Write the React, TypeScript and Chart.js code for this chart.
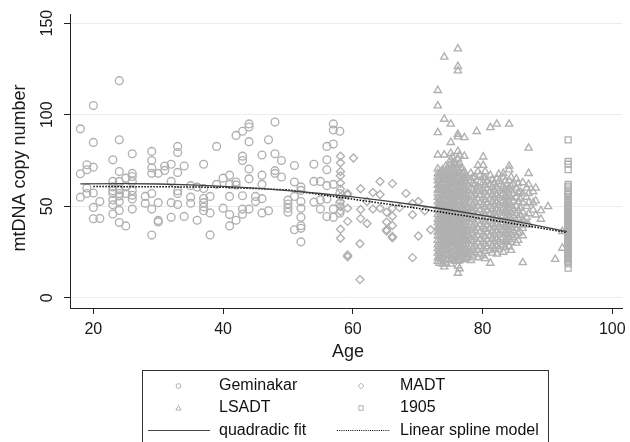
import React, { useEffect, useRef } from "react";
import { Chart, registerables } from "chart.js";

Chart.register(...registerables);

const xTicks = [20, 40, 60, 80, 100];
const yTicks = [0, 50, 100, 150];
const xTitle = "Age";
const yTitle = "mtDNA copy number";
const legendLabels = ["Geminakar", "MADT", "LSADT", "1905", "quadradic fit", "Linear spline model"];

const geminakar: [number, number][] = [
  [18, 92.3], [18, 67.8], [18, 55], [19, 72.7], [19, 70], [19, 57], [19, 60], [20, 105], [20, 84.9], [20, 71.4],
  [20, 57.3], [20, 49.4], [20, 43.2], [21, 43.4], [21, 52.6], [23, 75.4], [23, 63.6], [23, 57], [23, 53.4], [23, 45.8],
  [23, 60.6], [23, 58.5], [23, 50.8], [24, 118.6], [24, 86.3], [24, 69], [24, 63.6], [24, 57], [24, 52.6], [24, 47.7],
  [24, 41.2], [24, 59], [24, 55.7], [25, 39.3], [25, 57], [25, 60.6], [25, 65.4], [26, 78.7], [26, 68], [26, 63.6],
  [26, 54], [26, 48.5], [26, 56], [26, 66.3], [26, 58.6], [28, 55.4], [28, 51.7], [29, 80], [29, 75], [29, 71],
  [29, 68], [29, 57], [29, 48.5], [29, 34.3], [30, 68], [30, 52], [30, 42.3], [30, 41.5], [31, 72], [31, 69.6],
  [32, 73], [32, 63.6], [32, 52], [32, 44], [33, 82.7], [33, 79.4], [33, 68.5], [33, 58.5], [33, 57], [33, 51],
  [34, 72], [34, 44.5], [35, 61.3], [35, 55], [35, 51.7], [36, 60.5], [36, 42.4], [37, 73], [37, 59.7], [37, 54.3],
  [37, 52], [37, 49.7], [37, 47.6], [38, 55.4], [38, 46.4], [38, 34.4], [39, 82.7], [39, 62], [40, 65.4], [40, 49],
  [41, 67], [41, 62], [41, 55.4], [41, 45.5], [41, 39.3], [42, 88.7], [42, 63.3], [42, 61.7], [42, 42.4], [43, 91],
  [43, 77.4], [43, 75], [43, 55.8], [43, 48.5], [43, 45.7], [44, 95], [44, 93.3], [44, 85.3], [44, 70.4], [44, 65],
  [44, 48.5], [45, 55.4], [45, 52.6], [46, 78], [46, 67], [46, 62], [46, 54.2], [46, 46.4], [47, 86.3], [47, 47.6],
  [48, 96], [48, 78.7], [48, 69.5], [48, 68], [49, 75], [49, 66], [50, 53.4], [50, 51.3], [50, 49], [50, 46.8],
  [51, 72.3], [51, 63.3], [51, 55.4], [51, 37.2], [52, 60.6], [52, 58.7], [52, 52.6], [52, 49], [52, 44], [52, 39.4],
  [52, 38], [52, 30.6], [54, 73], [54, 63.6], [54, 52.3], [55, 63.6], [55, 53.5], [55, 48.5], [56, 82.7], [56, 75.4],
  [56, 70], [56, 61.3], [56, 54], [56, 44.4], [57, 95], [57, 91.7], [57, 84], [57, 62], [57, 48.6], [57, 44],
  [58, 91], [58, 57], [58, 51.5], [58, 46.2],
];

const madt: [number, number][] = [
  [58.1, 77.3], [58.1, 73.8], [58.1, 69], [58.1, 66.7], [58.1, 62.7], [58.1, 59.4], [58.1, 55.3], [58.1, 52.6],
  [58.1, 49.9], [58.1, 47.2], [58.1, 37.5], [58.1, 32.6], [59.2, 57], [59.2, 56.3], [59.2, 49], [59.2, 41.8],
  [59.2, 23.5], [59.2, 22.5], [60.1, 76.4], [61.2, 59.6], [61.2, 48.3], [61.2, 43.3], [61.1, 29.6], [61.1, 10],
  [62.2, 52.6], [62.2, 40.6], [63.1, 57.6], [63.1, 48.5], [64.2, 63.6], [64.2, 56.5], [64.2, 49], [65.2, 46.8],
  [65.2, 41.4], [65.2, 37.2], [65.2, 36.5], [66.1, 62.4], [66.1, 49], [66.1, 44.6], [66.1, 39.5], [66.1, 33.5],
  [66.1, 32.8], [67.2, 49.3], [68.2, 57.1], [69.2, 51.6], [69.2, 45.4], [69.2, 22], [70.1, 52.6], [70.1, 33.8],
  [71.1, 47.6], [72, 37.2],
];

// LSADT: values read column by column (age, values at that age)
const lsadtColumns: [number, number[]][] = [
  [73.1, [113.3, 104.9, 90.3, 78.1, 70.5, 68, 66, 64, 61.5, 59, 57, 55, 52.5, 50, 48, 45.5, 43, 41, 38.5, 36, 34, 31.5, 29, 27, 24.5, 22, 20]],
  [73.35, [67.5, 64.5, 62, 59.5, 56, 53.5, 50.5, 47, 44.5, 42, 39, 36.5, 33.5, 30.5, 28, 25.5, 22.5, 19]],
  [73.6, [69, 66.5, 63, 60, 57.5, 54, 51.5, 48.5, 46, 43.5, 40, 37.5, 35, 32, 29.5, 26, 23.5, 21]],
  [73.85, [70, 67.5, 65, 61.5, 58.5, 56, 52.5, 50, 47.5, 44.5, 42, 39, 36.5, 34, 31, 28, 24.5, 22, 18.5]],
  [74.1, [131.5, 97.6, 78.1, 68.5, 65.5, 63, 60.5, 58, 55.5, 53, 50.5, 48, 45.5, 43, 40.5, 38, 35.5, 33, 30.5, 28, 25.5, 23, 20.5, 17]],
  [74.35, [72, 69.5, 66, 62, 59, 56.5, 54, 51, 49, 46.5, 44, 41.5, 39, 37, 34.5, 32, 29.5, 27, 24, 21.5, 19]],
  [74.6, [71, 67, 64, 61, 58.5, 56, 52, 49.5, 47, 44, 41.5, 39, 36, 33.5, 31, 28.5, 26, 23.5]],
  [74.85, [69.5, 66, 62.5, 59.5, 57, 54.5, 51, 48, 45.5, 42.5, 40, 37.5, 35, 32.5, 29.5, 27, 24.5, 21.5]],
  [75.1, [94.9, 84.9, 79, 75.5, 73, 70.5, 68, 65.5, 63, 60.5, 58, 55.5, 53, 50.5, 48, 45.5, 43, 40.5, 38, 35.5, 33, 30.5, 28, 25.5, 23, 20.5, 18.5]],
  [75.35, [77, 72, 69, 66.5, 64, 61.5, 59, 56.5, 54, 51.5, 49, 46.5, 44, 41.5, 39, 36.5, 34, 31.5, 29, 26.5, 24, 21.5]],
  [75.6, [74, 70, 66.5, 63.5, 60, 57, 54, 51, 48.5, 45.5, 42.5, 40, 37, 34, 31, 28, 25, 22.5]],
  [75.85, [72.5, 68.5, 65, 61.5, 58.5, 55.5, 52.5, 50, 47, 44, 41, 38.5, 35.5, 32.5, 29.5, 26.5, 23.5, 20]],
  [76.2, [136, 126.4, 124, 89.4, 88, 80, 76, 72.5, 70, 67.5, 65, 62.5, 60, 57.5, 55, 52.5, 50, 47.5, 45, 42.5, 40, 37.5, 35, 32.5, 30, 27.5, 25, 22.5, 20, 17.5, 13.5]],
  [76.45, [78, 73.5, 69, 66, 63.5, 60.5, 58, 55.5, 53, 50.5, 48, 45.5, 43, 40.5, 38, 35.5, 33, 30.5, 28, 25.5, 23, 20.5, 16]],
  [76.7, [71, 67.5, 64, 61, 58, 55, 52, 49, 46, 43, 40, 37, 34.5, 31.5, 28.5, 25.5, 22.5]],
  [76.95, [68, 65, 62.5, 59.5, 56.5, 53.5, 50.5, 47.5, 44.5, 41.5, 38.5, 35.5, 33, 30, 27, 24, 21]],
  [77.2, [87.6, 77.4, 69, 66, 63.5, 61, 58.5, 56, 53.5, 51, 48.5, 46, 43.5, 41, 38.5, 36, 33.5, 31, 28.5, 26, 23.5, 21]],
  [77.45, [67, 63.5, 60, 57, 54.5, 51.5, 49, 46.5, 44, 41.5, 39, 36.5, 34, 31.5, 29, 26.5, 24, 21.5]],
  [77.7, [65.5, 62, 58.5, 55, 52, 49, 46, 43, 40, 37, 34, 31, 28, 25, 22]],
  [78.2, [68, 64, 60, 56, 52, 48, 44, 40, 36, 32, 28, 24, 20.5]],
  [78.5, [66, 62.5, 59, 55, 51, 47, 43, 39, 35, 31, 27, 23]],
  [78.8, [66, 62, 57, 53, 49, 45, 41, 37, 33, 29, 25]],
  [79.1, [90.9]],
  [79.3, [72.4, 69, 61, 58, 54, 50, 46, 42, 38, 34, 30, 26, 22]],
  [79.6, [67, 63, 59.5, 56, 52, 48, 44, 40, 36, 32, 28, 24]],
  [80.1, [77, 72.4, 66, 63, 59, 55, 51, 47, 43, 39, 35, 31, 27, 23]],
  [80.4, [69, 65.5, 61.5, 57.5, 53.5, 49.5, 45.5, 41.5, 37.5, 33.5, 29.5, 25.5, 21.5]],
  [80.7, [64, 60, 56, 52, 48, 44, 40, 36, 32, 28]],
  [81.2, [93, 67, 62, 58, 54, 50, 46, 42, 38, 34, 30, 26, 19]],
  [81.5, [64.5, 60.5, 56.5, 52.5, 48.5, 44.5, 40.5, 36.5, 32.5, 28.5, 24.5]],
  [81.8, [63, 59, 55, 51, 47, 43, 39, 35, 31, 27]],
  [82.2, [94.9, 65, 60, 56, 52, 48, 44, 40, 36, 32, 28, 24]],
  [82.5, [67.5, 63.5, 58.5, 54.5, 50.5, 46.5, 42.5, 38.5, 34.5, 30.5, 26.5]],
  [82.8, [62, 57, 53, 49, 45, 41, 37, 33, 29]],
  [83.2, [68, 66, 61, 57, 53, 49, 45, 41, 37, 33, 29, 25]],
  [83.5, [64, 59.5, 55.5, 51.5, 47.5, 43.5, 39.5, 35.5, 31.5, 27.5]],
  [83.8, [59, 55, 51, 47, 43, 39, 35, 31]],
  [84.1, [94.9, 72, 70, 64, 60, 56, 52, 48, 44, 40, 36, 32, 28]],
  [84.4, [66, 61, 58.5, 54.5, 50.5, 46.5, 42.5, 38.5, 34.5, 30.5, 26]],
  [84.7, [62, 57, 53, 49, 45, 41, 37, 33]],
  [85.2, [65, 60, 55, 50, 46, 42, 38, 34, 30]],
  [85.5, [62.5, 57.5, 52.5, 47.5, 43.5, 39.5, 35.5, 31.5]],
  [85.8, [58, 54, 49, 45, 40, 36]],
  [86.2, [63, 57, 52, 47, 43, 38, 34, 19.3]],
  [86.8, [60, 55, 50, 44, 40]],
  [87.1, [81.8, 68, 62, 57, 52, 46, 40]],
  [87.8, [58, 52, 48]],
  [88.2, [60, 53, 45.3]],
  [89, [47.7, 43]],
  [90.1, [49.9]],
  [91.2, [21.1]],
  [92.3, [36.3, 27.2]],
];

const cohort1905Age = 93.2;
const cohort1905: number[] = [
  86.3, 74.5, 73, 70, 62, 61, 60, 58.5, 57.3, 56.4, 55.5, 54.5, 53.6, 52.8, 52, 51.4, 50.8, 50.1, 49.5, 48.9,
  48.3, 47.6, 47, 46.4, 45.8, 45.1, 44.5, 43.9, 43.3, 42.6, 42, 41.4, 40.7, 40.1, 39.5, 38.9, 38.3, 37.6, 37,
  36.4, 35.8, 35.1, 34.5, 33.9, 33.3, 32.6, 32, 31.4, 30.8, 30.1, 29.5, 28.9, 28.3, 27.6, 27, 26.4, 25.8, 25.1,
  24.5, 23.9, 23.3, 22.6, 22, 21.4, 20.8, 20.1, 19.5, 18.6, 16.2,
];

const quadFit: [number, number][] = [
  [18, 62.3], [25, 62.4], [30, 62.2], [35, 61.7], [40, 60.9], [45, 59.9], [50, 58.6], [55, 57.0],
  [60, 55.2], [65, 53.0], [70, 50.6], [75, 48.0], [80, 45.1], [85, 41.9], [90, 38.4], [93, 36.2],
];
const splineModel: [number, number][] = [
  [20, 60.8], [30, 60.7], [40, 60.4], [50, 59.0], [60, 53.9], [70, 48.9], [80, 43.3], [93, 35.8],
];

const GRAY = "#b0b0b0";
const FONT = "'Liberation Sans', Arial, Helvetica, sans-serif";

const toXY = (arr: [number, number][]) => arr.map(([x, y]) => ({ x, y }));

function drawMarker(ctx: CanvasRenderingContext2D, kind: string, x: number, y: number, r: number) {
  ctx.beginPath();
  if (kind === "circle") {
    ctx.arc(x, y, r, 0, Math.PI * 2);
  } else if (kind === "triangle") {
    ctx.moveTo(x, y - r);
    ctx.lineTo(x + r * 0.866, y + r * 0.5);
    ctx.lineTo(x - r * 0.866, y + r * 0.5);
    ctx.closePath();
  } else if (kind === "diamond") {
    ctx.moveTo(x, y - r);
    ctx.lineTo(x + r, y);
    ctx.lineTo(x, y + r);
    ctx.lineTo(x - r, y);
    ctx.closePath();
  } else {
    const s = r * 0.75;
    ctx.rect(x - s, y - s, 2 * s, 2 * s);
  }
  ctx.stroke();
}

const decorPlugin = {
  id: "decor",
  afterDraw(chart: any) {
    const ctx: CanvasRenderingContext2D = chart.ctx;
    const xs = chart.scales.x;
    const ys = chart.scales.y;
    ctx.save();
    ctx.fillStyle = "#1a1a1a";
    ctx.textAlign = "center";
    ctx.textBaseline = "middle";
    ctx.font = `16px ${FONT}`;
    xTicks.forEach((v) => ctx.fillText(String(v), xs.getPixelForValue(v), 330));
    yTicks.forEach((v) => {
      ctx.save();
      ctx.translate(48, ys.getPixelForValue(v));
      ctx.rotate(-Math.PI / 2);
      ctx.fillText(String(v), 0, 0);
      ctx.restore();
    });
    ctx.font = `18px ${FONT}`;
    ctx.fillText(xTitle, 348, 352);
    ctx.save();
    ctx.translate(20, 168);
    ctx.rotate(-Math.PI / 2);
    ctx.fillText(yTitle, 0, 0);
    ctx.restore();

    // legend box
    ctx.strokeStyle = "#333";
    ctx.lineWidth = 1;
    ctx.strokeRect(142.5, 370.5, 406, 100);

    ctx.textAlign = "left";
    ctx.font = `16px ${FONT}`;
    const rows = [386, 408, 430.5];
    ctx.strokeStyle = GRAY;
    ctx.lineWidth = 1;
    drawMarker(ctx, "circle", 178.5, rows[0], 2.4);
    drawMarker(ctx, "diamond", 361, rows[0], 2.8);
    drawMarker(ctx, "triangle", 178.5, rows[1] + 0.5, 3);
    drawMarker(ctx, "square", 361, rows[1], 3);
    ctx.strokeStyle = "#444";
    ctx.lineWidth = 1.2;
    ctx.beginPath();
    ctx.moveTo(148, rows[2]);
    ctx.lineTo(210, rows[2]);
    ctx.stroke();
    ctx.strokeStyle = "#000";
    ctx.setLineDash([1, 1.2]);
    ctx.beginPath();
    ctx.moveTo(337, rows[2]);
    ctx.lineTo(390, rows[2]);
    ctx.stroke();
    ctx.setLineDash([]);
    ctx.fillStyle = "#111";
    ctx.fillText(legendLabels[0], 219, rows[0]);
    ctx.fillText(legendLabels[1], 400, rows[0]);
    ctx.fillText(legendLabels[2], 219, rows[1]);
    ctx.fillText(legendLabels[3], 400, rows[1]);
    ctx.fillText(legendLabels[4], 219, rows[2]);
    ctx.fillText(legendLabels[5], 400, rows[2]);
    ctx.restore();
  },
};

export default function App() {
  const ref = useRef<HTMLCanvasElement | null>(null);
  useEffect(() => {
    if (!ref.current) return;
    const lsadt: { x: number; y: number }[] = [];
    lsadtColumns.forEach(([age, vals]) => vals.forEach((v) => lsadt.push({ x: age, y: v })));
    const c1905 = cohort1905.map((v) => ({ x: cohort1905Age, y: v }));
    const chart = new Chart(ref.current, {
      type: "scatter",
      data: {
        datasets: [
          {
            label: legendLabels[4],
            data: toXY(quadFit),
            showLine: true,
            borderColor: "#444",
            borderWidth: 1.3,
            pointRadius: 0,
            order: 0,
          } as any,
          {
            label: legendLabels[5],
            data: toXY(splineModel),
            showLine: true,
            borderColor: "#000",
            borderWidth: 1.5,
            borderDash: [1.5, 1.5],
            pointRadius: 0,
            order: 0,
          } as any,
          {
            label: legendLabels[3],
            data: c1905,
            pointStyle: "rect",
            pointRadius: 4.2,
            pointBorderWidth: 1.3,
            borderColor: GRAY,
            backgroundColor: "rgba(0,0,0,0)",
            order: 1,
          } as any,
          {
            label: legendLabels[2],
            data: lsadt,
            pointStyle: "triangle",
            pointRadius: 4.2,
            pointBorderWidth: 1.35,
            borderColor: GRAY,
            backgroundColor: "rgba(0,0,0,0)",
            order: 2,
          } as any,
          {
            label: legendLabels[1],
            data: toXY(madt),
            pointStyle: "rectRot",
            pointRadius: 4,
            pointBorderWidth: 1.35,
            borderColor: GRAY,
            backgroundColor: "rgba(0,0,0,0)",
            order: 3,
          } as any,
          {
            label: legendLabels[0],
            data: toXY(geminakar),
            pointStyle: "circle",
            pointRadius: 3.9,
            pointBorderWidth: 1.35,
            borderColor: GRAY,
            backgroundColor: "rgba(0,0,0,0)",
            order: 4,
          } as any,
        ],
      },
      options: {
        animation: false,
        responsive: false,
        devicePixelRatio: 1,
        events: [],
        layout: { padding: { top: 14, right: 8, left: 0, bottom: 0 } },
        plugins: { legend: { display: false }, tooltip: { enabled: false } },
        scales: {
          x: {
            type: "linear",
            min: 16.4,
            max: 101.5,
            afterBuildTicks: (s: any) => {
              s.ticks = xTicks.map((v) => ({ value: v }));
            },
            afterFit: (s: any) => {
              s.height = 134;
            },
            ticks: { display: false },
            grid: { drawOnChartArea: false, drawTicks: true, tickLength: 6, tickColor: "#222", color: "#222" },
            border: { display: true, color: "#222", width: 1 },
          },
          y: {
            type: "linear",
            min: -5.5,
            max: 155,
            afterBuildTicks: (s: any) => {
              s.ticks = yTicks.map((v) => ({ value: v }));
            },
            afterFit: (s: any) => {
              s.width = 70;
            },
            ticks: { display: false },
            grid: { color: "#ededed", drawTicks: true, tickLength: 6, tickColor: "#222" },
            border: { display: true, color: "#222", width: 1 },
          },
        },
      } as any,
      plugins: [decorPlugin],
    });
    return () => chart.destroy();
  }, []);
  return (
    <div style={{ position: "fixed", left: 0, top: 0, width: 630, height: 442, background: "#fff" }}>
      <canvas ref={ref} width={630} height={442} style={{ display: "block" }} />
    </div>
  );
}
